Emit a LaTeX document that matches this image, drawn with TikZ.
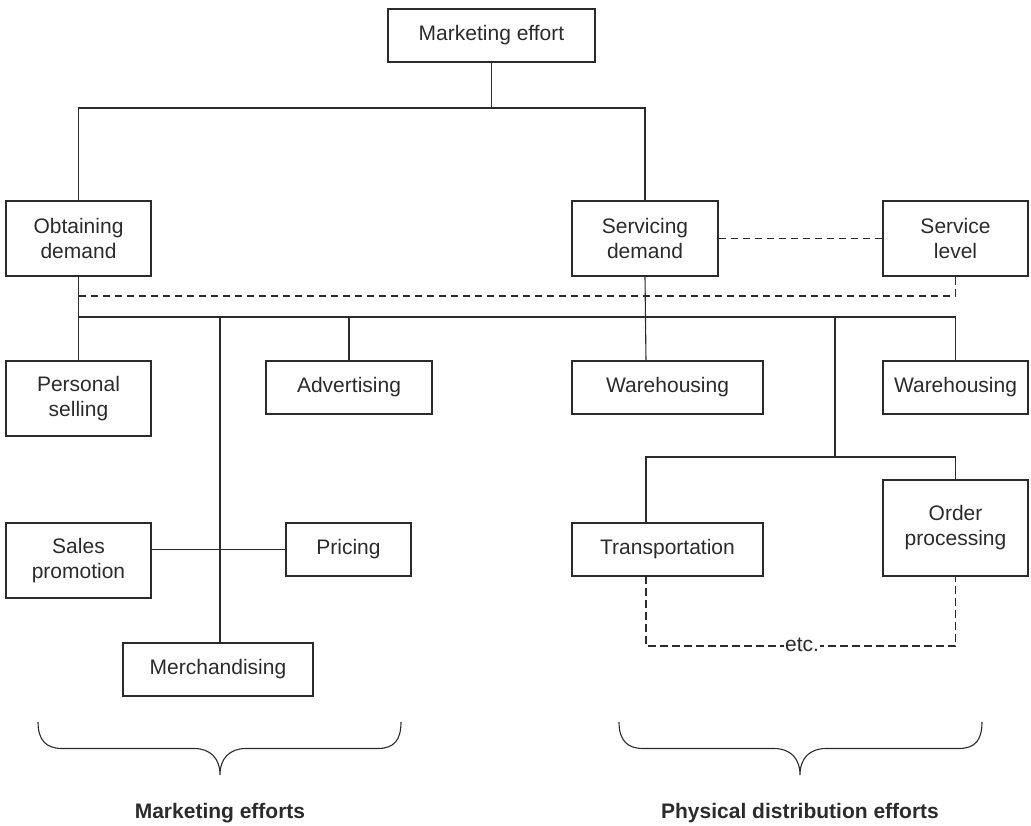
\documentclass[tikz,border=0pt]{standalone}
\usepackage{fontspec}
\setmainfont{Liberation Sans}
\definecolor{ink}{HTML}{2B2B2B}
\begin{document}
\begin{tikzpicture}[x=1pt,y=-1pt,
  box/.style={draw=ink,line width=1.1pt,inner sep=0pt,align=center,text=ink,
    font=\fontsize{21}{25}\selectfont},
  conn/.style={draw=ink,line width=1.1pt},
  dconn/.style={draw=ink,line width=1.1pt,dash pattern=on 7.5pt off 4.5pt},
  lbl/.style={text=ink,font=\fontsize{21}{25}\selectfont\bfseries}]
\useasboundingbox (0,0) rectangle (1031,826);
% nodes
\node[box,minimum width=207pt,minimum height=53pt] (me) at (491.5,35.5) {Marketing effort};
\node[box,minimum width=145pt,minimum height=75pt] (od) at (78.5,238.5) {Obtaining\\demand};
\node[box,minimum width=146pt,minimum height=75pt] (sd) at (645,238.5) {Servicing\\demand};
\node[box,minimum width=145pt,minimum height=75pt] (sl) at (955.5,238.5) {Service\\level};
\node[box,minimum width=145pt,minimum height=75pt] (ps) at (78.5,398.5) {Personal\\selling};
\node[box,minimum width=166pt,minimum height=53pt] (adv) at (349,387.5) {Advertising};
\node[box,minimum width=191pt,minimum height=53pt] (wh1) at (667.5,387.5) {Warehousing};
\node[box,minimum width=145pt,minimum height=53pt] (wh2) at (955.5,387.5) {Warehousing};
\node[box,minimum width=145pt,minimum height=75pt] (sp) at (78.5,560.5) {Sales\\promotion};
\node[box,minimum width=125pt,minimum height=53pt] (pr) at (348.5,549.5) {Pricing};
\node[box,minimum width=191pt,minimum height=53pt] (tr) at (667.5,549.5) {Transportation};
\node[box,minimum width=145pt,minimum height=96pt] (op) at (955.5,528) {Order\\processing};
\node[box,minimum width=190pt,minimum height=53pt] (mer) at (218,669.5) {Merchandising};
% junction coordinates
\coordinate (j1) at (491.5,108);
\coordinate (dl) at (78.5,296);
\coordinate (h1) at (78.5,317);
\coordinate (h2) at (955.5,317);
\coordinate (v220) at (220,317);
\coordinate (v220b) at (220,643);
\coordinate (v349) at (349,317);
\coordinate (v835) at (835,317);
\coordinate (j2) at (835,457);
\coordinate (trtop) at (646,523);
\coordinate (wh1top) at (646,361);
\coordinate (trbot) at (646,576);
\coordinate (dl2) at (646,646);
\coordinate (dr2) at (955.5,646);
% connectors
\draw[conn] (me.south) -- (j1);
\draw[conn] (od.north) |- (j1) -| (sd.north);
\draw[dconn] (sd.east) -- (sl.west);
\draw[dconn] (dl) -| (sl.south);
\draw[conn] (od.south) -- (ps.north);
\draw[conn] (h1) -- (h2) -- (wh2.north);
\draw[conn] (v220) -- (v220b);
\draw[conn] (v349) -- (adv.north);
\draw[conn] (sd.south) -- (wh1top);
\draw[conn] (v835) -- (j2);
\draw[conn] (trtop) |- (j2) -| (op.north);
\draw[conn] (sp.east |- pr.west) -- (pr.west);
\draw[dconn] (trbot) -- (dl2) -- (dr2) -- (op.south);
\node[fill=white,inner sep=1pt,text=ink,font=\fontsize{21}{25}\selectfont] (etc) at (802,645) {etc.};
% braces
\draw[line width=1.1pt,draw=ink] (38,722) .. controls (38,740) and (46,748.5) .. (62,748.5)
  -- (194,748.5) .. controls (210,748.5) and (220,758) .. (220,775)
  .. controls (220,758) and (230,748.5) .. (246,748.5)
  -- (378,748.5) .. controls (394,748.5) and (401,740) .. (401,722);
\draw[line width=1.1pt,draw=ink] (619,722) .. controls (619,740) and (627,748.5) .. (643,748.5)
  -- (774,748.5) .. controls (790,748.5) and (800,758) .. (800,775)
  .. controls (800,758) and (810,748.5) .. (826,748.5)
  -- (959,748.5) .. controls (975,748.5) and (982,740) .. (982,722);
\node[lbl] (l1) at (220,813) {Marketing efforts};
\node[lbl] (l2) at (800,813) {Physical distribution efforts};
\end{tikzpicture}
\end{document}
